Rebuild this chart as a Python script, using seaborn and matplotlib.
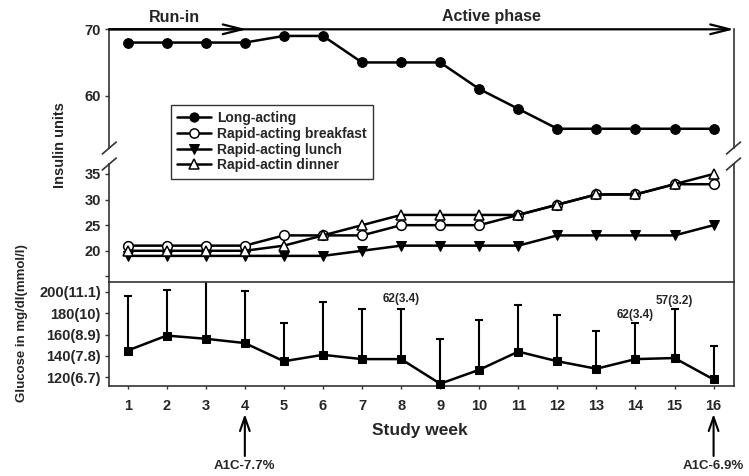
import matplotlib
matplotlib.use('Agg')
import matplotlib.pyplot as plt
import seaborn as sns
import pandas as pd
import numpy as np
from matplotlib.lines import Line2D
from matplotlib.font_manager import FontProperties

# ---------------- data ----------------
weeks = list(range(1, 17))
long_acting = [68, 68, 68, 68, 69, 69, 65, 65, 65, 61, 58, 55, 55, 55, 55, 55]
rapid_breakfast = [21, 21, 21, 21, 23, 23, 23, 25, 25, 25, 27, 29, 31, 31, 33, 33]
rapid_lunch = [19, 19, 19, 19, 19, 19, 20, 21, 21, 21, 21, 23, 23, 23, 23, 25]
rapid_dinner = [20, 20, 20, 20, 21, 23, 25, 27, 27, 27, 27, 29, 31, 31, 33, 35]
glucose_mean = [145, 159, 156, 152, 135, 141, 137, 137, 114, 127, 144, 135, 128, 137, 138, 118]
glucose_sd = [51, 43, 57, 49, 36, 49, 47, 47, 42, 47, 44, 43, 35, 34, 46, 31]
series_labels = ['Long-acting', 'Rapid-acting breakfast', 'Rapid-acting lunch', 'Rapid-actin dinner']
glucose_ticks = [120, 140, 160, 180, 200]
glucose_tick_labels = ['120(6.7)', '140(7.8)', '160(8.9)', '180(10)', '200(11.1)']
mid_ticks = [15, 20, 25, 30, 35]
mid_tick_labels = ['', '20', '25', '30', '35']
top_ticks = [60, 70]
min_weeks = [8, 14, 15]
min_labels = ['62(3.4)', '62(3.4)', '57(3.2)']
a1c_weeks = [4, 16]
a1c_labels = ['A1C-7.7%', 'A1C-6.9%']

df = pd.DataFrame({'week': weeks, 'long': long_acting, 'bf': rapid_breakfast,
                   'lunch': rapid_lunch, 'dinner': rapid_dinner,
                   'glu': glucose_mean, 'sd': glucose_sd})

# ---------------- style ----------------
sns.set_style('ticks')
plt.rcParams['font.family'] = ['Liberation Sans', 'DejaVu Sans']
plt.rcParams['font.weight'] = 'bold'

W, H = 749, 476
fig = plt.figure(figsize=(W / 100, H / 100), dpi=100)
fig.patch.set_facecolor('white')

def fx(px):
    return px / W

def fy(py):
    return 1 - py / H

L, R = 109.3, 733.5
TOP_T, TOP_B = 29.3, 148.0
MID_T, MID_B = 164.0, 281.5
BOT_T, BOT_B = 281.5, 386.0
XLIM = (0.53, 16.51)
SPC = '#333333'

ax_top = fig.add_axes([fx(L), fy(TOP_B), (R - L) / W, (TOP_B - TOP_T) / H])
ax_mid = fig.add_axes([fx(L), fy(MID_B), (R - L) / W, (MID_B - MID_T) / H])
ax_bot = fig.add_axes([fx(L), fy(BOT_B), (R - L) / W, (BOT_B - BOT_T) / H])

lw = 1.8
ms = 7
# top panel
sns.lineplot(data=df, x='week', y='long', ax=ax_top, color='black', lw=lw,
             marker='o', markersize=ms, markerfacecolor='black',
             markeredgecolor='black', legend=False, label=series_labels[0])
# middle panel
sns.lineplot(data=df, x='week', y='bf', ax=ax_mid, color='black', lw=lw,
             marker='o', markersize=ms, markerfacecolor='white',
             markeredgecolor='black', markeredgewidth=1.1, legend=False,
             label=series_labels[1])
sns.lineplot(data=df, x='week', y='lunch', ax=ax_mid, color='black', lw=lw,
             marker='v', markersize=7.5, markerfacecolor='black',
             markeredgecolor='black', legend=False, label=series_labels[2])
sns.lineplot(data=df, x='week', y='dinner', ax=ax_mid, color='black', lw=lw,
             marker='^', markersize=ms, markerfacecolor='white',
             markeredgecolor='black', markeredgewidth=1.1, legend=False,
             label=series_labels[3])

# bottom panel
eb = ax_bot.errorbar(df['week'], df['glu'], yerr=[np.zeros(len(df)), df['sd']],
                     fmt='none', ecolor='black', elinewidth=1.5, capsize=3.2,
                     capthick=1.5, zorder=2)
for cl in eb[1]:
    if np.allclose(np.asarray(cl.get_ydata(), float), np.asarray(glucose_mean, float)):
        cl.set_visible(False)
sns.lineplot(data=df, x='week', y='glu', ax=ax_bot, color='black', lw=lw,
             marker='s', markersize=6, markerfacecolor='black',
             markeredgecolor='black', legend=False, zorder=3)
ax_bot.lines[-1].set_clip_on(False)

# ---------------- axes formatting ----------------
tick_font = 10.5
for ax in (ax_top, ax_mid, ax_bot):
    ax.set_xlim(*XLIM)
    ax.set_xlabel('')
    ax.set_ylabel('')
    ax.set_facecolor('white')
    for s in ax.spines.values():
        s.set_color(SPC)
        s.set_linewidth(1.2)
    ax.tick_params(axis='y', direction='out', length=3, width=1, color=SPC,
                   labelsize=tick_font, pad=3)

ax_top.set_ylim(70 - (TOP_B - TOP_T) / 6.63, 70)
ax_top.set_yticks(top_ticks)
ax_top.spines['top'].set_visible(False)
ax_top.spines['bottom'].set_visible(False)
ax_top.tick_params(axis='x', bottom=False, labelbottom=False)

ax_mid.set_ylim(20 - (MID_B - 250.7) / 5.13, 35 + (174 - MID_T) / 5.13)
ax_mid.set_yticks(mid_ticks)
ax_mid.set_yticklabels(mid_tick_labels)
ax_mid.spines['top'].set_visible(False)
ax_mid.spines['bottom'].set_visible(False)
ax_mid.tick_params(axis='x', bottom=False, labelbottom=False)

ax_bot.set_ylim(120 - (BOT_B - 377.3) / 1.07, 200 + (291.7 - BOT_T) / 1.07)
ax_bot.set_yticks(glucose_ticks)
ax_bot.set_yticklabels(glucose_tick_labels)
ax_bot.set_xticks(weeks)
ax_bot.set_xticklabels([str(w) for w in weeks])
ax_bot.tick_params(axis='x', direction='out', length=2.5, width=1, color=SPC,
                   labelsize=tick_font, pad=7)
for t in ax_top.get_yticklabels() + ax_mid.get_yticklabels() + \
        ax_bot.get_yticklabels() + ax_bot.get_xticklabels():
    t.set_fontweight('bold')

# ---------------- arrows at top ----------------
arrow_top = dict(arrowstyle='->,head_length=1.4,head_width=0.35', lw=1.6,
                 color='black', shrinkA=0, shrinkB=0, mutation_scale=10)
ax_top.annotate('', xy=(16.53, 70), xytext=(XLIM[0], 70), arrowprops=arrow_top,
                annotation_clip=False)
ax_top.annotate('', xy=(4.05, 70), xytext=(XLIM[0], 70), arrowprops=arrow_top,
                annotation_clip=False)
fig.text(fx(174), fy(17), 'Run-in', ha='center', va='center', fontsize=11.5,
         fontweight='bold')
fig.text(fx(491), fy(17), 'Active phase', ha='center', va='center', fontsize=11.5,
         fontweight='bold')

# ---------------- break marks ----------------
for xs in (L, R):
    for yc in (TOP_B, MID_T):
        fig.add_artist(Line2D([fx(xs - 7), fx(xs + 7)], [fy(yc + 6), fy(yc - 6)],
                              color=SPC, lw=1.2, transform=fig.transFigure))

# ---------------- legend ----------------
handles = [ax_top.lines[0], ax_mid.lines[0], ax_mid.lines[1], ax_mid.lines[2]]
leg = fig.legend(handles, series_labels, loc='upper left',
                 bbox_to_anchor=(fx(171), fy(105)), frameon=True, fancybox=False,
                 edgecolor=SPC, framealpha=1, borderaxespad=0,
                 prop=FontProperties(family=['Liberation Sans', 'DejaVu Sans'],
                                     weight='bold', size=10),
                 handlelength=2.4, handletextpad=0.45, labelspacing=0.12,
                 borderpad=0.45, markerscale=0.95)
leg.get_frame().set_linewidth(1.0)
leg.set_zorder(10)

# ---------------- annotations in glucose panel ----------------
min_y = {8: 193, 14: 178, 15: 191}
for w, lab in zip(min_weeks, min_labels):
    ax_bot.text(w, min_y[w], lab, ha='center', va='center', fontsize=8.5,
                fontweight='bold', clip_on=False)

# ---------------- axis labels ----------------
fig.text(fx(60), fy(145), 'Insulin units', rotation=90, ha='center',
         va='center', fontsize=10.5, fontweight='bold')
fig.text(fx(22), fy(323), 'Glucose in mg/dl(mmol/l)', rotation=90,
         ha='center', va='center', fontsize=9.5, fontweight='bold')
fig.text(fx(420), fy(430), 'Study week', ha='center', va='center', fontsize=12.5,
         fontweight='bold')

# ---------------- A1C arrows ----------------
arrow_bot = dict(arrowstyle='->,head_length=1.0,head_width=0.35', lw=1.5,
                 color='black', shrinkA=0, shrinkB=0, mutation_scale=10)
for w, lab in zip(a1c_weeks, a1c_labels):
    ax_bot.annotate('', xy=(w, (BOT_B - 414) / (BOT_B - BOT_T)),
                    xytext=(w, (BOT_B - 456) / (BOT_B - BOT_T)),
                    xycoords=('data', 'axes fraction'),
                    textcoords=('data', 'axes fraction'),
                    arrowprops=arrow_bot, annotation_clip=False)
    ax_bot.annotate(lab, xy=(w, (BOT_B - 466) / (BOT_B - BOT_T)),
                    xycoords=('data', 'axes fraction'), ha='center', va='center',
                    fontsize=9.5, fontweight='bold', annotation_clip=False)

fig.savefig('out.png', dpi=100, facecolor='white')
